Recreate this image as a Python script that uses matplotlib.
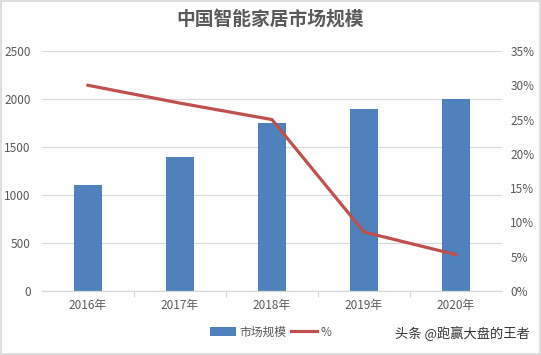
import matplotlib.pyplot as plt
from matplotlib.patches import Rectangle
from matplotlib.ticker import FuncFormatter

plt.rcParams['font.family'] = ['Noto Sans CJK SC', 'DejaVu Sans']

years = ['2016年', '2017年', '2018年', '2019年', '2020年']
market_size = [1100, 1400, 1750, 1900, 2000]
growth_pct = [30.0, 27.4, 25.0, 8.6, 5.3]

BAR_COLOR = '#4F81BD'
LINE_COLOR = '#C0504D'
TEXT_COLOR = '#595959'
GRID_COLOR = '#D9D9D9'

fig = plt.figure(figsize=(5.41, 3.55), dpi=100)
ax = fig.add_axes([42 / 541, 1 - 291 / 355, 460 / 541, 240 / 355])
ax2 = ax.twinx()

x = list(range(len(years)))
ax.bar(x, market_size, width=0.30, color=BAR_COLOR, zorder=2, label='市场规模')
ax2.plot(x, growth_pct, color=LINE_COLOR, lw=2.3, zorder=3, label='%',
         solid_joinstyle='round')

ax.set_xlim(-0.5, len(years) - 0.5)
ax.set_ylim(0, 2500)
ax.set_yticks(range(0, 2501, 500))
ax2.set_ylim(0, 35)
ax2.set_yticks(range(0, 36, 5))
ax2.yaxis.set_major_formatter(FuncFormatter(lambda v, p: f'{int(v)}%'))

ax.grid(axis='y', color=GRID_COLOR, lw=0.9, zorder=0)
ax.set_axisbelow(True)
ax.set_xticks(x)
ax.set_xticklabels(years)
ax.set_xticks([i + 0.5 for i in x[:-1]], minor=True)
ax.tick_params(axis='x', which='major', length=0, pad=6)
ax.tick_params(axis='x', which='minor', length=4, color=GRID_COLOR, width=0.9)
ax.tick_params(axis='y', length=0, pad=8)
ax2.tick_params(axis='y', length=0, pad=6)

for a in (ax, ax2):
    for s in a.spines.values():
        s.set_visible(False)
    for lbl in a.get_xticklabels() + a.get_yticklabels():
        lbl.set_color(TEXT_COLOR)
        lbl.set_fontsize(8.5)
ax.spines['bottom'].set_visible(True)
ax.spines['bottom'].set_color(GRID_COLOR)
ax.spines['bottom'].set_linewidth(0.9)

fig.text(0.5, 1 - 19 / 355, '中国智能家居市场规模', ha='center', va='center',
         fontsize=13.5, fontweight='bold', color=TEXT_COLOR)

h1, l1 = ax.get_legend_handles_labels()
h2, l2 = ax2.get_legend_handles_labels()
fig.legend(h1 + h2, l1 + l2, loc='center', bbox_to_anchor=(0.5, 1 - 332 / 355),
           ncol=2, frameon=False, fontsize=8.5, handlelength=2.2,
           columnspacing=0.4, handletextpad=0.3, labelcolor=TEXT_COLOR)

fig.text(530 / 541, 1 - 334 / 355, '头条 @跑赢大盘的王者', ha='right', va='center',
         fontsize=9.5, color='#333333')

fig.patches.append(Rectangle((0.001, 0.002), 0.997, 0.995, transform=fig.transFigure,
                             fill=False, edgecolor='#D9D9D9', lw=1.2))

fig.savefig('out.png', dpi=100)
